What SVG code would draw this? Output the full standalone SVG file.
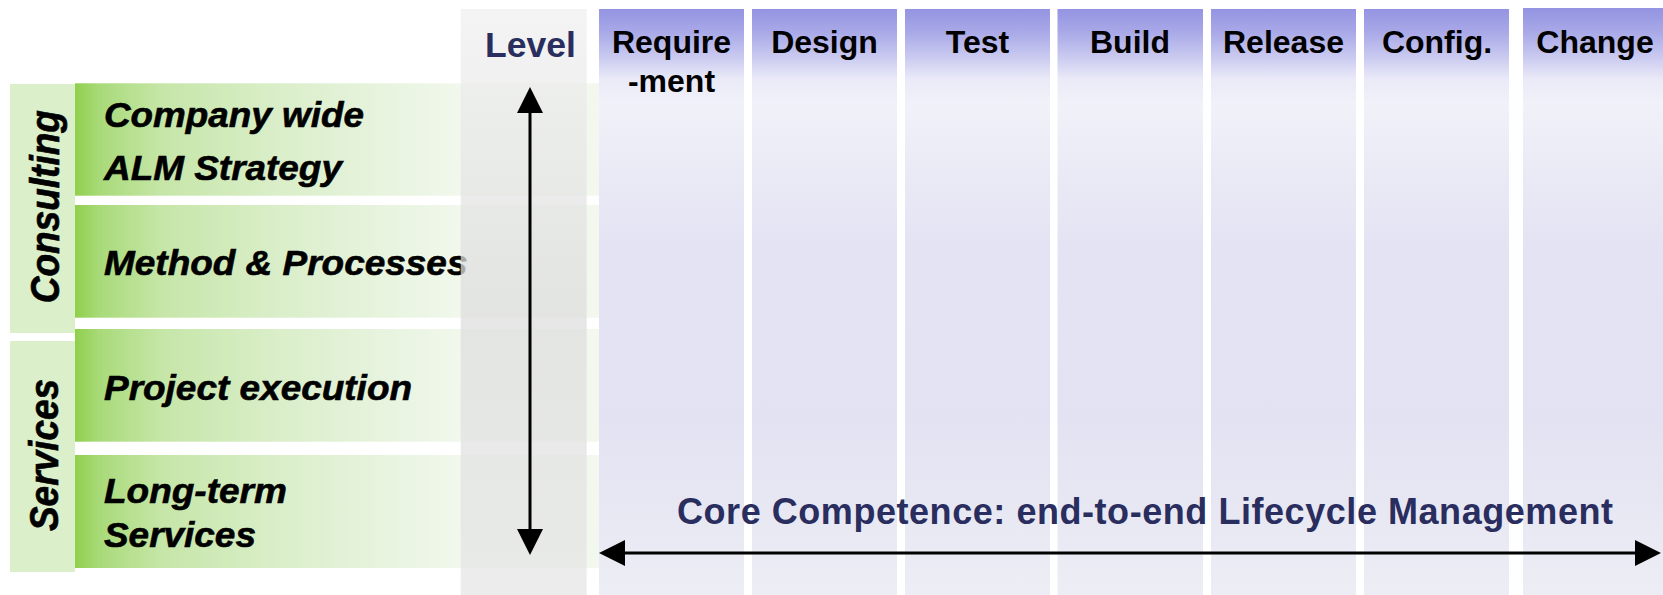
<svg xmlns="http://www.w3.org/2000/svg" width="1663" height="595" viewBox="0 0 1663 595">
  <style>
    .f { font-family: "Liberation Sans", Arial, Helvetica, sans-serif; font-weight: bold; }
    .hdr { font-size: 32px; fill: #000; text-anchor: middle; }
    .row { font-size: 35px; font-style: italic; fill: #000; stroke: #000; stroke-width: 0.6; }
    .cat { font-size: 37px; font-style: italic; fill: #000; stroke: #000; stroke-width: 0.6; text-anchor: middle; }
    .navy { fill: #2a2e5e; }
    .catbox { fill: #dbefca; }
    .phase { fill: url(#gPhase); }
    .rowbg { fill: url(#gRow); }
    .conn { stroke: #000; stroke-width: 3; fill: none; }
  </style>
  <defs>
    <linearGradient id="gRow" gradientUnits="userSpaceOnUse" x1="75" y1="0" x2="470" y2="0">
      <stop offset="0" stop-color="#8fcf4c"/>
      <stop offset="0.06" stop-color="#a8da78"/>
      <stop offset="0.22" stop-color="#c6e6a8"/>
      <stop offset="0.5" stop-color="#d9eec8"/>
      <stop offset="0.75" stop-color="#e6f3dc"/>
      <stop offset="1" stop-color="#f2f8ee"/>
    </linearGradient>
    <linearGradient id="gPhase" gradientUnits="userSpaceOnUse" x1="0" y1="9" x2="0" y2="595">
      <stop offset="0" stop-color="#9494e2"/>
      <stop offset="0.04" stop-color="#a9a9e8"/>
      <stop offset="0.08" stop-color="#c8c8f0"/>
      <stop offset="0.12" stop-color="#eaeaf8"/>
      <stop offset="0.16" stop-color="#f1f1f9"/>
      <stop offset="0.4" stop-color="#e3e3f3"/>
      <stop offset="0.7" stop-color="#e2e2f2"/>
      <stop offset="1" stop-color="#ededf5"/>
    </linearGradient>
    <linearGradient id="gLevel" gradientUnits="userSpaceOnUse" x1="0" y1="9" x2="0" y2="595">
      <stop offset="0" stop-color="#f0f0f0"/>
      <stop offset="0.5" stop-color="#dedede"/>
      <stop offset="1" stop-color="#e6e6e6"/>
    </linearGradient>
    <marker id="ah" markerUnits="userSpaceOnUse" markerWidth="26" markerHeight="26" refX="0" refY="13" orient="auto-start-reverse">
      <path d="M0,0 L26,13 L0,26 Z" fill="#000"/>
    </marker>
  </defs>

  <rect width="1663" height="595" fill="#fff"/>

  <!-- category boxes -->
  <g id="cat-consulting">
    <rect class="catbox" x="10" y="84" width="65" height="249"/>
    <text class="f cat" transform="translate(58.5,206.7) scale(1.1,1) rotate(-90)">Consulting</text>
  </g>
  <g id="cat-services">
    <rect class="catbox" x="10" y="341" width="65" height="231"/>
    <text class="f cat" transform="translate(58,455) scale(1.1,1) rotate(-90)">Services</text>
  </g>

  <!-- rows -->
  <g id="row-strategy">
    <rect class="rowbg" x="75" y="83.3" width="524" height="112.4"/>
    <text class="f row" transform="translate(104,127) scale(1.053,1)">Company wide</text>
    <text class="f row" transform="translate(104,180) scale(1.055,1)">ALM Strategy</text>
  </g>
  <g id="row-method">
    <rect class="rowbg" x="75" y="205" width="524" height="112.7"/>
    <text class="f row" transform="translate(104,275) scale(1.056,1)">Method &amp; Processes</text>
  </g>
  <g id="row-project">
    <rect class="rowbg" x="75" y="329" width="524" height="112.7"/>
    <text class="f row" transform="translate(104,400) scale(1.056,1)">Project execution</text>
  </g>
  <g id="row-longterm">
    <rect class="rowbg" x="75" y="455" width="524" height="113"/>
    <text class="f row" transform="translate(104,503) scale(1.057,1)">Long-term</text>
    <text class="f row" transform="translate(104,547) scale(1.055,1)">Services</text>
  </g>

  <!-- level column -->
  <g id="level">
    <rect x="460.7" y="9" width="126" height="586" fill="url(#gLevel)" opacity="0.75"/>
    <text class="f navy" x="530.5" y="57.3" font-size="35.5" text-anchor="middle">Level</text>
  </g>

  <!-- phase columns -->
  <g id="phase-requirement">
    <rect class="phase" x="599" y="9" width="145" height="586"/>
    <text class="f hdr" x="671.5" y="53">Require</text>
    <text class="f hdr" x="671.5" y="92">-ment</text>
  </g>
  <g id="phase-design">
    <rect class="phase" x="752" y="9" width="145" height="586"/>
    <text class="f hdr" x="824.5" y="53">Design</text>
  </g>
  <g id="phase-test">
    <rect class="phase" x="905" y="9" width="145" height="586"/>
    <text class="f hdr" x="977.5" y="53">Test</text>
  </g>
  <g id="phase-build">
    <rect class="phase" x="1057.5" y="9" width="145.5" height="586"/>
    <text class="f hdr" x="1130" y="53">Build</text>
  </g>
  <g id="phase-release">
    <rect class="phase" x="1211" y="9" width="145" height="586"/>
    <text class="f hdr" x="1283.5" y="53">Release</text>
  </g>
  <g id="phase-config">
    <rect class="phase" x="1364" y="9" width="145" height="586"/>
    <text class="f hdr" x="1437" y="53">Config.</text>
  </g>
  <g id="phase-change">
    <rect class="phase" x="1523" y="8" width="140" height="587"/>
    <text class="f hdr" x="1595" y="53">Change</text>
  </g>

  <!-- connectors -->
  <g id="connectors">
    <line class="conn" x1="530" y1="113" x2="530" y2="529" marker-start="url(#ah)" marker-end="url(#ah)"/>
    <line class="conn" x1="625" y1="553" x2="1635" y2="553" marker-start="url(#ah)" marker-end="url(#ah)"/>
  </g>

  <g id="core-label">
    <text class="f navy" x="677" y="524" font-size="36" textLength="936" lengthAdjust="spacing">Core Competence: end-to-end Lifecycle Management</text>
  </g>
</svg>
